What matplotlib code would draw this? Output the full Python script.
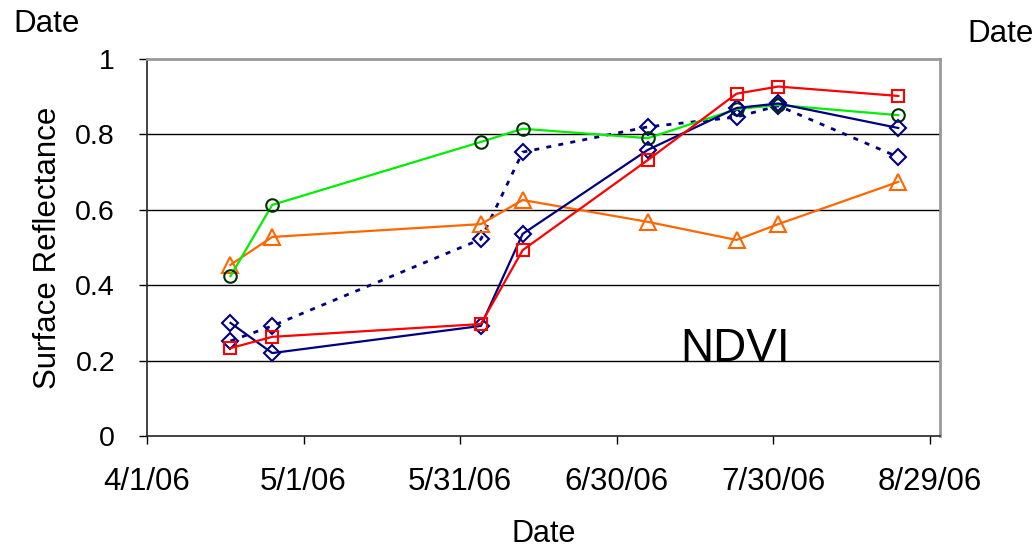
import matplotlib
matplotlib.use("Agg")
import matplotlib.pyplot as plt
import matplotlib.dates as mdates
import datetime as dt

plt.rcParams['font.family'] = ['Liberation Sans', 'DejaVu Sans']

# Observation dates (2006)
dates = ["2006-04-17", "2006-04-25", "2006-06-04", "2006-06-12",
         "2006-07-06", "2006-07-23", "2006-07-31", "2006-08-23"]

# Surface reflectance series
green_circle = [0.424, 0.613, 0.780, 0.815, 0.790, 0.867, 0.878, 0.851]
red_square = [0.233, 0.263, 0.297, 0.493, 0.732, 0.908, 0.927, 0.902]
orange_triangle = [0.454, 0.528, 0.562, 0.626, 0.568, 0.520, 0.562, 0.674]
navy_solid = [0.300, 0.220, 0.292, 0.536, 0.759, 0.870, 0.882, 0.817]
navy_dotted = [0.252, 0.292, 0.522, 0.753, 0.820, 0.846, 0.876, 0.740]

x_ticks = ["2006-04-01", "2006-05-01", "2006-05-31", "2006-06-30",
           "2006-07-30", "2006-08-29"]
y_ticks = [0, 0.2, 0.4, 0.6, 0.8, 1.0]
y_tick_labels = ['0', '0.2', '0.4', '0.6', '0.8', '1']

to_dt = lambda s: dt.datetime.strptime(s, "%Y-%m-%d")
xd = [to_dt(s) for s in dates]

W, H = 1035, 547
fig = plt.figure(figsize=(W / 100, H / 100), dpi=100)
ax = fig.add_axes([147 / W, 1 - 436 / H, (940 - 147) / W, (436 - 59) / H])

for v in y_ticks[1:-1]:
    ax.axhline(v, color='black', lw=1.0, zorder=1)

mk = dict(markerfacecolor='none', markeredgewidth=1.5)
ax.plot(xd, navy_dotted, color='#000080', lw=2.0, ls=(0, (1.8, 2.6)),
        marker='D', markersize=8.5, markeredgecolor='#000080', zorder=3, **mk)
ax.plot(xd, orange_triangle, color='#FF6600', lw=1.6,
        marker='^', markersize=11, markeredgecolor='#FF6600', zorder=3, **mk)
ax.plot(xd, green_circle, color='#00EE00', lw=1.6,
        marker='o', markersize=9, markeredgecolor='#003300', zorder=3, **mk)
ax.plot(xd, navy_solid, color='#000080', lw=1.6,
        marker='D', markersize=8.5, markeredgecolor='#000080', zorder=4, **mk)
ax.plot(xd, red_square, color='#FF0000', lw=1.6,
        marker='s', markersize=9, markeredgecolor='#FF0000', zorder=4, **mk)

ax.set_xlim(to_dt("2006-04-01"), to_dt("2006-08-31"))
ax.set_ylim(0, 1)
ax.set_xticks([to_dt(s) for s in x_ticks])
ax.xaxis.set_major_formatter(mdates.DateFormatter('%-m/%-d/%y'))
ax.set_yticks(y_ticks)
ax.set_yticklabels(y_tick_labels)

ax.tick_params(axis='x', direction='out', length=6, width=1, labelsize=22.5, pad=16)
ax.tick_params(axis='y', direction='out', length=6, width=1, labelsize=20.5, pad=17)

for side in ('left', 'bottom'):
    ax.spines[side].set_color('#222222')
    ax.spines[side].set_linewidth(1.2)
for side in ('top', 'right'):
    ax.spines[side].set_color('#999999')
    ax.spines[side].set_linewidth(2)

ax.set_xlabel('Date', fontsize=22, labelpad=16)
ax.set_ylabel('Surface Reflectance', fontsize=22.5, labelpad=9)

ax.text(0.672, 0.2, 'NDVI', transform=ax.transAxes, fontsize=33,
        ha='left', va='baseline', zorder=5)

fig.text(13 / W, 1 - 32 / H, 'Date', fontsize=22.5, ha='left', va='baseline')
fig.text(967 / W, 1 - 42 / H, 'Date', fontsize=22.5, ha='left', va='baseline')

fig.savefig('out.png', dpi=100)
